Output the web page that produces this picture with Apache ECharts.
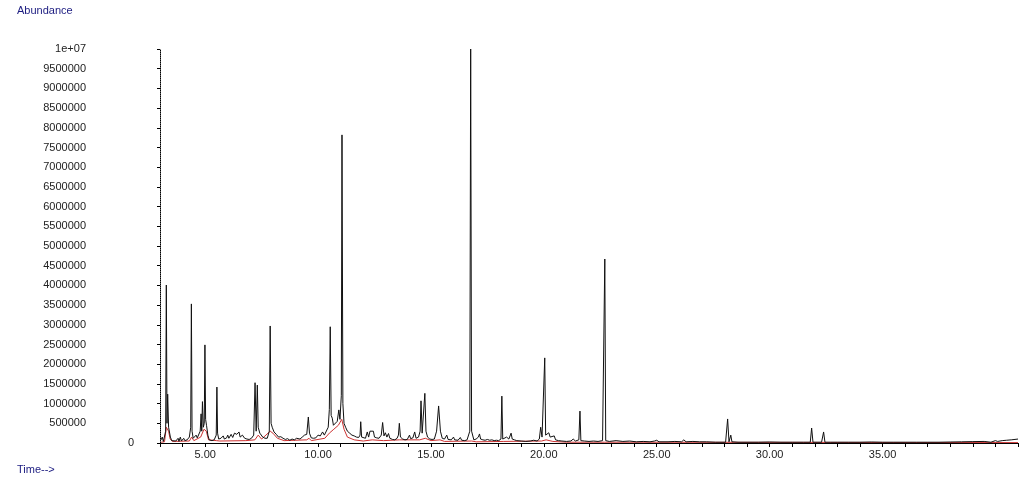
<!DOCTYPE html>
<html>
<head>
<meta charset="utf-8">
<script src="https://cdn.jsdelivr.net/npm/echarts@6/dist/echarts.min.js"></script>
<style>
html,body{margin:0;padding:0;background:#fff;}
#chart{width:1021px;height:482px;}
</style>
</head>
<body>
<div id="chart"></div>
<script>
// Total ion chromatogram (black) – retention time (min) and abundance (thousands)
var ticTime = [3.05,3.10,3.15,3.20,3.25,3.28,3.31,3.34,3.38,3.42,3.46,3.52,3.60,3.70,3.80,3.84,3.90,3.95,4.05,4.10,4.20,4.30,4.36,4.39,4.42,4.47,4.55,4.60,4.65,4.72,4.78,4.82,4.85,4.88,4.92,4.96,4.99,5.02,5.06,5.12,5.18,5.30,5.40,5.49,5.52,5.55,5.60,5.70,5.80,5.85,5.95,6.00,6.05,6.15,6.22,6.30,6.40,6.50,6.55,6.65,6.75,6.85,6.95,7.05,7.15,7.21,7.26,7.31,7.35,7.42,7.50,7.55,7.65,7.75,7.84,7.88,7.92,7.97,8.05,8.15,8.25,8.35,8.45,8.55,8.65,8.75,8.85,8.95,9.05,9.12,9.20,9.30,9.40,9.50,9.57,9.62,9.70,9.80,9.90,10.00,10.10,10.20,10.28,10.35,10.45,10.50,10.54,10.58,10.63,10.68,10.75,10.85,10.92,10.97,11.03,11.06,11.10,11.15,11.22,11.30,11.40,11.50,11.60,11.70,11.80,11.86,11.89,11.93,12.00,12.10,12.18,12.24,12.30,12.38,12.45,12.50,12.60,12.70,12.80,12.86,12.92,12.98,13.05,13.12,13.18,13.30,13.40,13.50,13.56,13.60,13.65,13.75,13.85,13.95,14.05,14.10,14.20,14.28,14.34,14.45,14.52,14.56,14.61,14.67,14.73,14.78,14.85,14.95,15.05,15.15,15.25,15.34,15.42,15.50,15.60,15.70,15.76,15.90,16.00,16.05,16.20,16.30,16.36,16.50,16.60,16.72,16.76,16.80,16.90,17.00,17.10,17.15,17.20,17.30,17.40,17.50,17.60,17.70,17.80,17.90,18.00,18.10,18.14,18.18,18.25,18.35,18.40,18.45,18.55,18.60,18.70,18.80,19.00,19.20,19.40,19.55,19.70,19.80,19.86,19.92,19.98,20.04,20.08,20.14,20.22,20.28,20.36,20.46,20.52,20.65,20.80,21.00,21.20,21.30,21.40,21.55,21.60,21.64,21.80,22.00,22.20,22.40,22.60,22.70,22.74,22.90,23.20,23.50,23.80,24.10,24.40,24.70,24.90,25.00,25.10,25.50,25.80,26.10,26.20,26.30,26.60,26.90,27.20,27.60,28.05,28.14,28.20,28.28,28.33,28.60,29.00,29.50,30.00,30.50,31.00,31.50,31.80,31.86,31.92,32.30,32.39,32.45,32.70,33.00,33.50,34.00,34.50,35.00,35.50,36.00,36.50,37.00,37.50,38.00,38.50,39.00,39.50,39.80,40.00,40.10,40.30,40.50,40.70,41.00];
var ticAbund = [80,150,40,30,300,4010,500,1240,400,350,150,60,40,50,120,40,150,50,120,60,80,150,400,3530,300,120,80,200,130,100,300,740,300,1050,400,500,2490,600,450,200,80,60,80,200,1420,250,100,120,180,100,130,200,120,220,140,250,220,280,150,200,120,100,90,120,200,1530,300,1470,400,250,300,150,120,120,300,2970,500,400,280,220,150,160,120,90,110,70,100,80,120,80,100,150,200,220,660,250,130,120,130,200,180,280,200,250,400,850,2950,700,630,450,400,550,840,600,1200,7820,1000,500,400,300,250,200,180,150,140,200,540,150,100,120,280,150,300,250,300,150,130,120,200,520,180,260,150,240,120,90,80,120,200,500,150,100,80,90,200,110,130,280,120,150,300,1070,250,300,1260,300,150,100,90,100,300,940,300,120,100,200,90,80,150,80,70,140,70,60,80,300,10000,300,80,100,150,230,100,80,70,90,70,80,60,70,60,100,1190,100,80,150,200,100,250,100,80,60,50,40,50,70,50,100,400,150,200,2160,200,200,260,150,100,180,80,60,50,40,50,100,50,80,810,60,50,40,50,40,60,4670,60,40,60,40,50,30,40,30,50,70,30,30,40,30,80,30,40,30,30,20,20,610,30,200,30,20,20,20,25,20,20,20,20,380,20,20,280,20,20,20,20,20,25,20,20,20,20,20,20,25,30,35,40,20,60,40,60,70,80,100];

// Baseline trace (red) – retention time (min) and abundance (thousands)
var baseTime  = [3.05,3.20,3.28,3.38,3.45,3.55,4.30,4.40,4.50,4.80,4.95,5.05,5.15,5.50,5.55,5.65,6.80,7.20,7.35,7.50,7.88,8.00,8.20,8.50,9.50,9.60,9.70,10.30,10.50,10.70,10.90,11.05,11.15,11.30,11.60,12.00,12.40,12.90,13.60,14.50,14.75,15.00,15.40,15.60,16.80,17.00,18.20,19.90,20.10,20.40,21.00,22.70,41.00];
var baseAbund = [20,30,400,300,100,40,50,150,60,150,350,300,80,60,100,50,60,80,200,100,300,250,120,60,80,120,60,120,250,350,450,600,350,150,80,50,80,60,80,80,120,60,80,40,50,30,40,50,80,40,20,20,10];

var yMin = 0, yMax = 10000000, yStep = 500000;
var xMin = 3, xMax = 41, xStep = 1, xLabelStep = 5;

function pairs(t, a){ return t.map(function(v,i){ return [v, a[i]*1000]; }); }

var chart = echarts.init(document.getElementById('chart'), null, {renderer:'canvas'});
var font = 'Liberation Sans, Arial, sans-serif';
chart.setOption({
  animation:false,
  backgroundColor:'#ffffff',
  title:[
    {text:'Abundance', left:12, top:0, textStyle:{fontFamily:font,fontSize:11,fontWeight:'normal',color:'#1c1c80'}},
    {text:'Time-->', left:12, top:459, textStyle:{fontFamily:font,fontSize:11,fontWeight:'normal',color:'#1c1c80'}}
  ],
  grid:{left:160, right:2, top:49, bottom:39, containLabel:false},
  xAxis:{
    type:'value', min:xMin, max:xMax, interval:xStep,
    axisLine:{show:true, lineStyle:{color:'#000', width:1}},
    axisTick:{show:true, length:4, lineStyle:{color:'#000'}},
    axisLabel:{fontFamily:font, fontSize:11, color:'#222', margin:6,
      formatter:function(v){ return (v % xLabelStep === 0 && v < 40) ? v.toFixed(2) : ''; }},
    splitLine:{show:false}
  },
  yAxis:[{
    type:'value', min:yMin, max:yMax, interval:yStep,
    axisLine:{show:true, lineStyle:{color:'#000', width:1, type:'dotted'}},
    axisTick:{show:true, length:3, lineStyle:{color:'#000'}},
    axisLabel:{fontFamily:font, fontSize:11, color:'#222', margin:74, align:'right',
      formatter:function(v){ if(v===0) return ''; return v===10000000 ? '1e+07' : String(v); }},
    splitLine:{show:false}
  },{
    type:'value', min:yMin, max:yMax, interval:yStep, position:'left',
    axisLine:{show:false}, axisTick:{show:false}, splitLine:{show:false},
    axisLabel:{fontFamily:font, fontSize:11, color:'#222', margin:26, align:'right',
      formatter:function(v){ return v===0 ? '0' : ''; }}
  }],
  series:[
    {type:'line', data:pairs(baseTime, baseAbund), showSymbol:false, symbol:'none',
     lineStyle:{color:'#cc3333', width:1}, z:1},
    {type:'line', data:pairs(ticTime, ticAbund), showSymbol:false, symbol:'none',
     lineStyle:{color:'#111111', width:1}, z:2}
  ]
});
</script>
</body>
</html>
